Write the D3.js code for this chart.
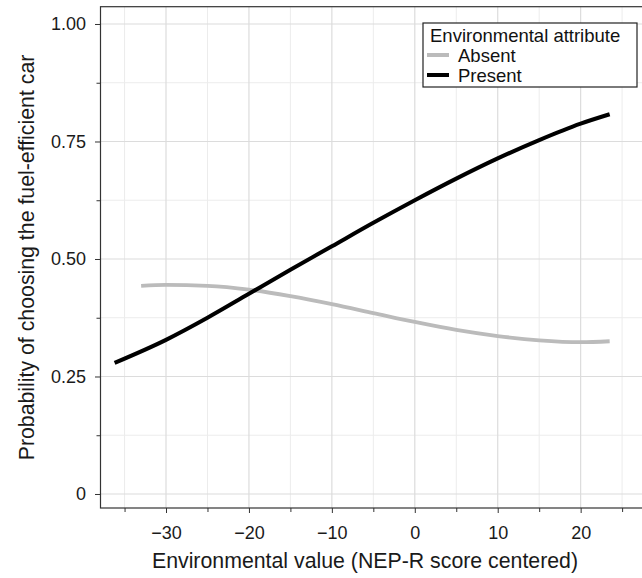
<!DOCTYPE html>
<html>
<head>
<meta charset="utf-8">
<script src="https://cdn.jsdelivr.net/npm/d3@7"></script>
<style>
  html, body { margin: 0; padding: 0; background: #fff; }
  svg { display: block; font-family: "Liberation Sans", Arial, sans-serif; }
</style>
</head>
<body>
<svg id="chart" width="642" height="578"></svg>
<script>
// ---- data ----
const seriesNames = ["Absent", "Present"];
const absentX = [-33, -30, -25, -20, -15, -10, -5, 0, 5, 10, 15, 20, 23.5];
const absentY = [0.443, 0.445, 0.443, 0.435, 0.421, 0.404, 0.385, 0.366, 0.349, 0.336, 0.327, 0.323, 0.325];
const presentX = [-36.2, -30, -25, -20, -15, -10, -5, 0, 5, 10, 15, 20, 23.5];
const presentY = [0.279, 0.328, 0.375, 0.426, 0.477, 0.527, 0.577, 0.625, 0.671, 0.714, 0.753, 0.788, 0.808];
const xMajorTicks = [-30, -20, -10, 0, 10, 20];
const xMinorTicks = [-35, -25, -15, -5, 5, 15, 25];
const yMajorTicks = [0, 0.25, 0.5, 0.75, 1.0];
const yMajorLabels = ["0", "0.25", "0.50", "0.75", "1.00"];
const yMinorTicks = [0.125, 0.375, 0.625, 0.875];

(function () {
const svg = d3.select("#chart");
const pL = 100.5, pR = 644, pT = 6.7, pB = 508;

const x = d3.scaleLinear().domain([-37.9, 27.64]).range([pL, pR]);
const y = d3.scaleLinear().domain([-0.0298, 1.0368]).range([pB, pT]);

// grid
const g = svg.append("g");
g.selectAll(".xminor").data(xMinorTicks).enter().append("line")
  .attr("x1", d => x(d)).attr("x2", d => x(d)).attr("y1", pT).attr("y2", pB)
  .attr("stroke", "#ececec").attr("stroke-width", 1);
g.selectAll(".yminor").data(yMinorTicks).enter().append("line")
  .attr("y1", d => y(d)).attr("y2", d => y(d)).attr("x1", pL).attr("x2", pR)
  .attr("stroke", "#ececec").attr("stroke-width", 1);
g.selectAll(".xmajor").data(xMajorTicks).enter().append("line")
  .attr("x1", d => x(d)).attr("x2", d => x(d)).attr("y1", pT).attr("y2", pB)
  .attr("stroke", "#dcdcdc").attr("stroke-width", 1.2);
g.selectAll(".ymajor").data(yMajorTicks).enter().append("line")
  .attr("y1", d => y(d)).attr("y2", d => y(d)).attr("x1", pL).attr("x2", pR)
  .attr("stroke", "#dcdcdc").attr("stroke-width", 1.2);

// lines
const line = d3.line().x(d => x(d[0])).y(d => y(d[1])).curve(d3.curveMonotoneX);
const absentData = absentX.map((v, i) => [v, absentY[i]]);
const presentData = presentX.map((v, i) => [v, presentY[i]]);
svg.append("path").datum(absentData).attr("d", line)
  .attr("fill", "none").attr("stroke", "#bbbbbb").attr("stroke-width", 3.8);
svg.append("path").datum(presentData).attr("d", line)
  .attr("fill", "none").attr("stroke", "#000000").attr("stroke-width", 4);

// panel border
svg.append("rect").attr("x", pL).attr("y", pT).attr("width", pR - pL).attr("height", pB - pT)
  .attr("fill", "none").attr("stroke", "#333333").attr("stroke-width", 1.2);

// axes
const xAxis = d3.axisBottom(x).tickValues(xMajorTicks).tickSize(5).tickPadding(13.5)
  .tickFormat(d => d < 0 ? "\u2212" + Math.abs(d) : d);
const gx = svg.append("g").attr("transform", `translate(0,${pB})`).call(xAxis);
gx.select(".domain").remove();
gx.selectAll(".tick line").attr("stroke", "#333");
gx.selectAll(".tick text").attr("font-size", 18).attr("fill", "#1a1a1a");
const xAxisMinor = d3.axisBottom(x).tickValues(xMinorTicks).tickSize(4).tickFormat("");
const gxm = svg.append("g").attr("transform", `translate(0,${pB})`).call(xAxisMinor);
gxm.select(".domain").remove();
gxm.selectAll(".tick line").attr("stroke", "#333");

const yAxis = d3.axisLeft(y).tickValues(yMajorTicks).tickSize(5.5).tickPadding(9)
  .tickFormat((d, i) => yMajorLabels[i]);
const gy = svg.append("g").attr("transform", `translate(${pL},0)`).call(yAxis);
gy.select(".domain").remove();
gy.selectAll(".tick line").attr("stroke", "#333");
gy.selectAll(".tick text").attr("font-size", 18).attr("fill", "#1a1a1a");
const yAxisMinor = d3.axisLeft(y).tickValues(yMinorTicks).tickSize(4).tickFormat("");
const gym = svg.append("g").attr("transform", `translate(${pL},0)`).call(yAxisMinor);
gym.select(".domain").remove();
gym.selectAll(".tick line").attr("stroke", "#333");

// axis titles
svg.append("text").attr("x", 365).attr("y", 568).attr("text-anchor", "middle")
  .attr("font-size", 21.3).attr("fill", "#1a1a1a")
  .text("Environmental value (NEP-R score centered)");
svg.append("text").attr("transform", "translate(34,257.5) rotate(-90)").attr("text-anchor", "middle")
  .attr("font-size", 21.3).attr("fill", "#1a1a1a")
  .text("Probability of choosing the fuel-efficient car");

// legend
const lg = svg.append("g");
lg.append("rect").attr("x", 423).attr("y", 23).attr("width", 214).attr("height", 64)
  .attr("fill", "#fff").attr("stroke", "#222").attr("stroke-width", 1.2);
lg.append("text").attr("x", 430).attr("y", 41.5).attr("font-size", 18.5).attr("fill", "#111")
  .text("Environmental attribute");
const legColors = ["#bbbbbb", "#000000"];
seriesNames.forEach((name, i) => {
  const cy = 55 + i * 20;
  lg.append("line").attr("x1", 427).attr("x2", 449).attr("y1", cy).attr("y2", cy)
    .attr("stroke", legColors[i]).attr("stroke-width", 4);
  lg.append("text").attr("x", 458).attr("y", cy + 6.5).attr("font-size", 18.5).attr("fill", "#111")
    .text(name);
});
})();
</script>
</body>
</html>
